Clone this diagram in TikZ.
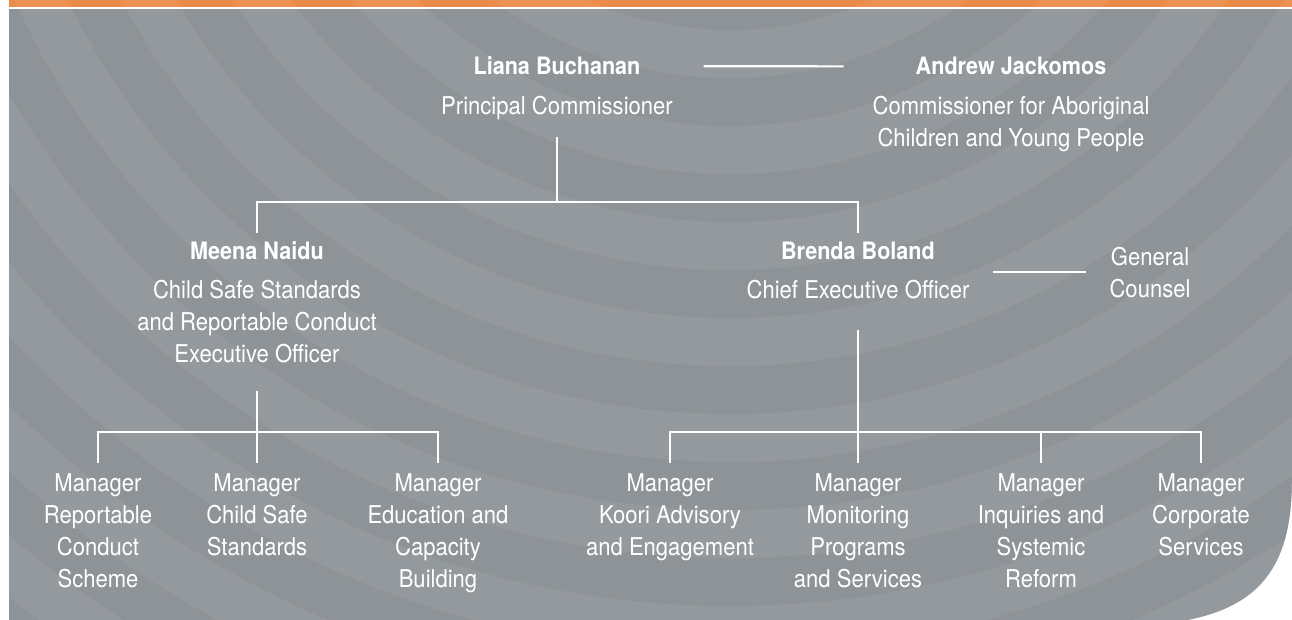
\documentclass[tikz,border=0pt]{standalone}
\usepackage{fontspec}
\setmainfont{TeX Gyre Heros}[FakeStretch=0.9]
\usepackage{tikz}
\usetikzlibrary{backgrounds}
\definecolor{chartgrey}{RGB}{142,147,151}
\definecolor{chartorange}{RGB}{234,139,74}
\tikzstyle{person}=[text=white,inner sep=0pt,anchor=base,font=\fontsize{24}{31}\selectfont\bfseries]
\tikzstyle{role}=[text=white,inner sep=0pt,anchor=base,align=center,font=\fontsize{24.5}{32}\selectfont]
\tikzstyle{link}=[white,line width=2.2pt]
\begin{document}
\begin{tikzpicture}[x=1pt,y=-1pt]
\useasboundingbox (0,0) rectangle (1292,620);

\node[person] (liana) at (557,75) {Liana Buchanan};
\node[role] (lianarole) at (557,115) {Principal Commissioner};
\node[person] (andrew) at (1011,75) {Andrew Jackomos};
\node[role] (andrewrole) at (1011,147) {Commissioner for Aboriginal\\Children and Young People};
\node[person] (meena) at (257,259) {Meena Naidu};
\node[role] (meenarole) at (257,362) {Child Safe Standards\\and Reportable Conduct\\Executive Officer};
\node[person] (brenda) at (858,259) {Brenda Boland};
\node[role] (brendarole) at (858,298) {Chief Executive Officer};
\node[role] (counsel) at (1150,297) {General\\Counsel};

\node[role] (mgrscheme) at (98,587) {Manager\\Reportable\\Conduct\\Scheme};
\node[role] (mgrsafe) at (257,555) {Manager\\Child Safe\\Standards};
\node[role] (mgredu) at (438,587) {Manager\\Education and\\Capacity\\Building};
\node[role] (mgrkoori) at (670,555) {Manager\\Koori Advisory\\and Engagement};
\node[role] (mgrmon) at (858,587) {Manager\\Monitoring\\Programs\\and Services};
\node[role] (mgrinq) at (1041,587) {Manager\\Inquiries and\\Systemic\\Reform};
\node[role] (mgrcorp) at (1201,555) {Manager\\Corporate\\Services};

\coordinate (topfork) at (557,202);
\coordinate (leftfork) at (257,432);
\coordinate (rightfork) at (858,432);

\draw[link] ([xshift=63pt]liana.east) -- ([xshift=-72pt]andrew.west);
\draw[link] ([yshift=-22pt]lianarole.base) -- (topfork);
\draw[link] ([yshift=8pt]meena.north) |- (topfork) -| ([yshift=8pt]brenda.north);
\draw[link] ([xshift=-23pt]counsel.west) -- ([xshift=23pt]brendarole.east |- counsel.west);
\draw[link] ([yshift=-28pt]meenarole.south) -- (leftfork);
\draw[link] ([yshift=10pt]mgrscheme.north) |- (leftfork) -| ([yshift=10pt]mgredu.north);
\draw[link] (leftfork) -- ([yshift=10pt]mgrsafe.north);
\draw[link] ([yshift=-32pt]brendarole.base) -- (rightfork);
\draw[link] ([yshift=10pt]mgrkoori.north) |- (rightfork) -| ([yshift=10pt]mgrcorp.north);
\draw[link] (rightfork) -- ([yshift=10pt]mgrmon.north);
\draw[link] ([yshift=10pt]mgrinq.north) -- (mgrinq.north |- rightfork);

\begin{pgfonlayer}{background}
\fill[white] (0,0) rectangle (1292,620);
\fill[chartorange] (9,0) rectangle (1292,7);
\fill[chartgrey] (9,9) rectangle (1292,620);
\begin{scope}
\clip (9,0) rectangle (1292,620);
\foreach \r in {353,449,...,1700}
  \fill[white,opacity=.06,even odd rule] (730,-323) circle[radius=\r pt] circle[radius=\r pt+48pt];
\end{scope}
\fill[white] (9,7) rectangle (1292,9);
\fill[white] (1292,480) .. controls (1292,560) and (1265,605) .. (1188,620) -- (1292,620) -- cycle;
\end{pgfonlayer}
\end{tikzpicture}
\end{document}
